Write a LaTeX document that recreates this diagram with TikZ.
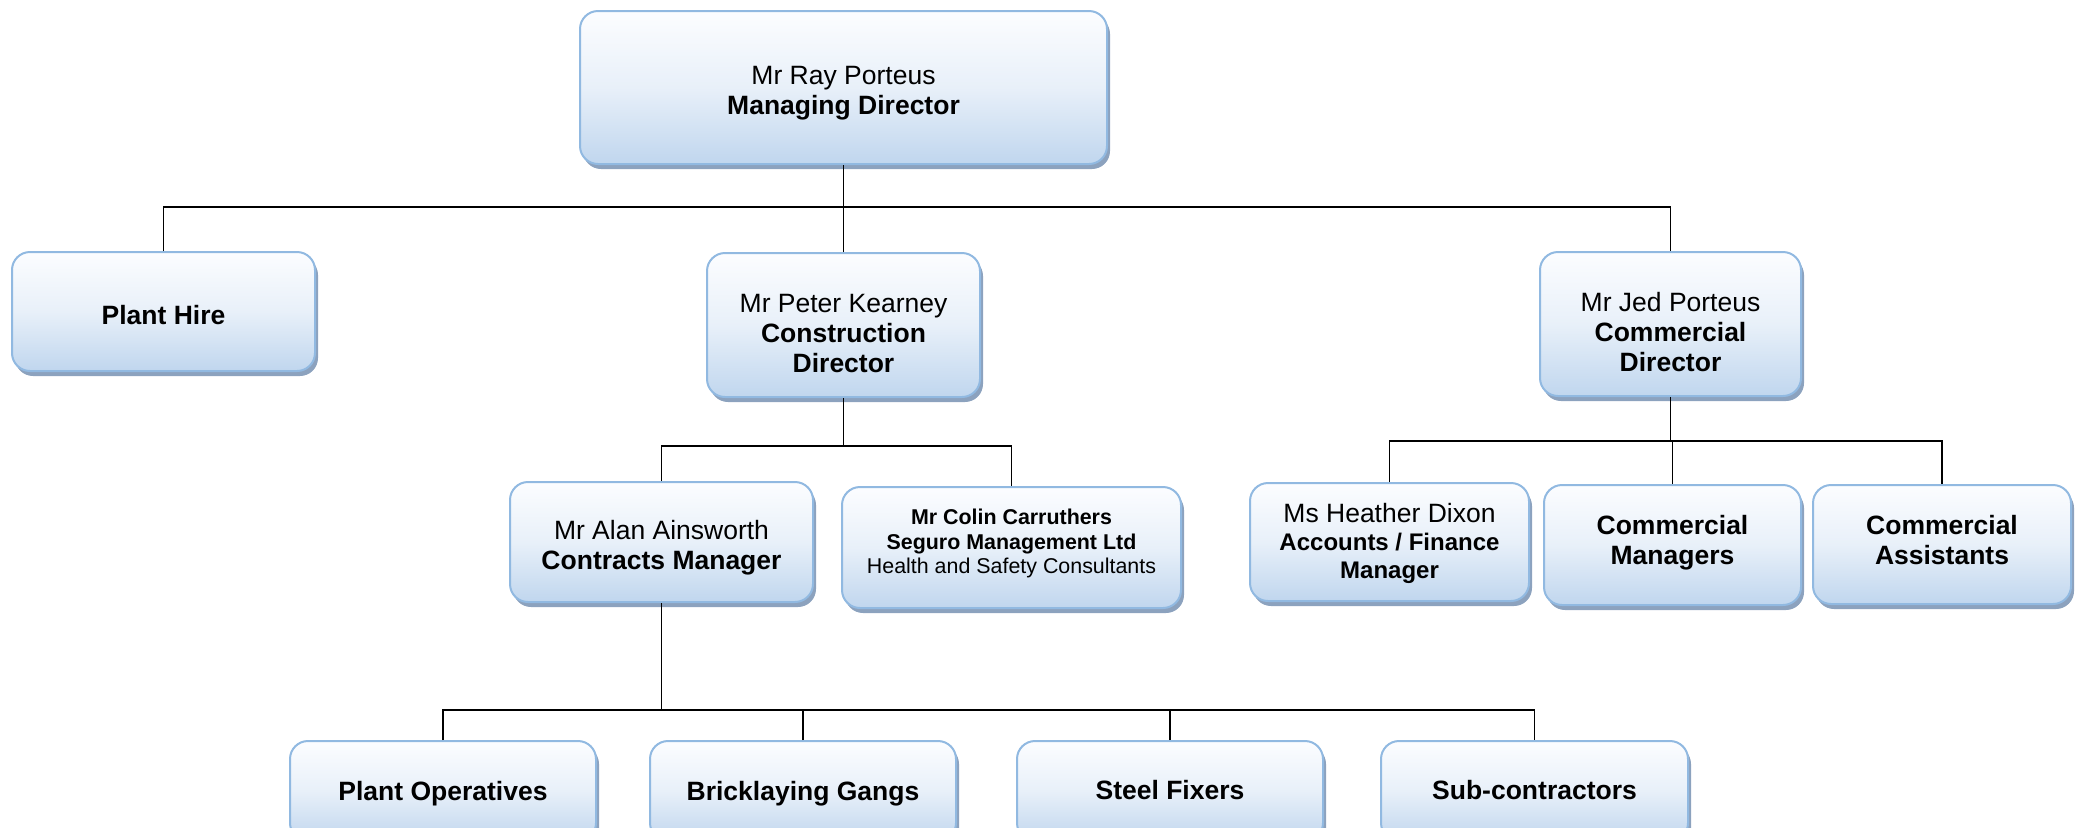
\documentclass[tikz,border=0pt]{standalone}
\usepackage{fontspec}
\setmainfont{Liberation Sans}
\usetikzlibrary{shadows}
\definecolor{bordc}{RGB}{145,185,225}
\definecolor{topc}{RGB}{252,253,255}
\definecolor{midc}{RGB}{232,240,249}
\definecolor{botc}{RGB}{192,214,238}
\definecolor{shadc}{RGB}{140,162,190}
\tikzset{
  box/.style={draw=bordc, line width=1pt, rounded corners=9pt,
    top color=topc, bottom color=botc, middle color=midc,
    inner sep=0pt,
    drop shadow={shadow xshift=1.5pt, shadow yshift=-2.5pt, fill=shadc, opacity=1}},
  txt/.style={align=center, inner sep=2pt, font=\fontsize{13.25}{15}\selectfont},
  conn/.style={draw=black, line width=0.9pt}
}
\begin{document}
\begin{tikzpicture}[x=0.5pt,y=-0.5pt]
\useasboundingbox (0,0) rectangle (2076,827);
\clip (0,0) rectangle (2076,827);
% level 0
\node[box, minimum width=263.5pt, minimum height=76.5pt] (md) at (843.5,87.5) {};
\node[txt, yshift=-3pt] (mdt) at (md.center) {Mr Ray Porteus\\\textbf{Managing Director}};
% level 1
\node[box, minimum width=151.5pt, minimum height=59.5pt] (ph) at (163.5,311.5) {};
\node[txt, yshift=-2pt] (pht) at (ph.center) {\textbf{Plant Hire}};
\node[box, minimum width=136.5pt, minimum height=72pt] (cd) at (843.5,325) {};
\node[txt, yshift=-4.3pt] (cdt) at (cd.center) {Mr Peter Kearney\\\textbf{Construction}\\\textbf{Director}};
\node[box, minimum width=130.5pt, minimum height=72pt] (cm) at (1670.5,324) {};
\node[txt, yshift=-4pt] (cmt) at (cm.center) {Mr Jed Porteus\\\textbf{Commercial}\\\textbf{Director}};
% level 2
\node[box, minimum width=151.5pt, minimum height=60pt] (aa) at (661.5,542) {};
\node[txt, yshift=-3pt] (aat) at (aa.center) {Mr Alan Ainsworth\\\textbf{Contracts Manager}};
\node[box, minimum width=169.5pt, minimum height=60.5pt] (cc) at (1011.5,547.5) {};
\node[txt, yshift=2pt, font=\fontsize{10.7}{12.25}\selectfont] (cct) at (cc.center)
  {\textbf{Mr Colin Carruthers}\\\textbf{Seguro Management Ltd}\\Health and Safety Consultants};
\node[box, minimum width=139.5pt, minimum height=59pt] (hd) at (1389.5,542) {};
\node[txt, yshift=-0.7pt, font=\fontsize{12}{14}\selectfont] (hdt) at (hd.center)
  {{\fontsize{13.25}{14}\selectfont Ms Heather Dixon}\\\textbf{Accounts / Finance}\\\textbf{Manager}};
\node[box, minimum width=128.5pt, minimum height=60pt] (cmg) at (1672.5,545) {};
\node[txt, yshift=1pt] (cmgt) at (cmg.center) {\textbf{Commercial}\\\textbf{Managers}};
\node[box, minimum width=129pt, minimum height=59.5pt] (cas) at (1942,544.5) {};
\node[txt, yshift=2.3pt] (cast) at (cas.center) {\textbf{Commercial}\\\textbf{Assistants}};
% level 3
\node[box, minimum width=153pt, minimum height=50pt] (po) at (443,791) {};
\node[txt, yshift=-1.3pt] (pot) at (po.center) {\textbf{Plant Operatives}};
\node[box, minimum width=153pt, minimum height=50pt] (bg) at (803,791) {};
\node[txt, yshift=-1.3pt] (bgt) at (bg.center) {\textbf{Bricklaying Gangs}};
\node[box, minimum width=153pt, minimum height=50pt] (sf) at (1170,791) {};
\node[txt, yshift=0.7pt] (sft) at (sf.center) {\textbf{Steel Fixers}};
\node[box, minimum width=153.5pt, minimum height=50pt] (sc) at (1534.5,791) {};
\node[txt, yshift=0.7pt] (sct) at (sc.center) {\textbf{Sub-contractors}};
% connectors
\coordinate (b1) at (0,207);
\coordinate (b2) at (0,446);
\coordinate (b3) at (0,441);
\coordinate (b4) at (0,710);
\draw[conn] (md.south) -- (md.south |- b1);
\draw[conn] (ph.north) |- (cm.north |- b1) -- (cm.north);
\draw[conn] (cd.north) -- (cd.north |- b1);
\draw[conn] (cd.south) -- (cd.south |- b2);
\draw[conn] (aa.north) |- (cc.north |- b2) -- (cc.north);
\draw[conn] (cm.south) -- (cm.south |- b3);
\draw[conn] (hd.north) |- (cas.north |- b3) -- (cas.north);
\draw[conn] (cmg.north) -- (cmg.north |- b3);
\draw[conn] (aa.south) -- (aa.south |- b4);
\draw[conn] (po.north) |- (sc.north |- b4) -- (sc.north);
\draw[conn] (bg.north) -- (bg.north |- b4);
\draw[conn] (sf.north) -- (sf.north |- b4);
\end{tikzpicture}
\end{document}
